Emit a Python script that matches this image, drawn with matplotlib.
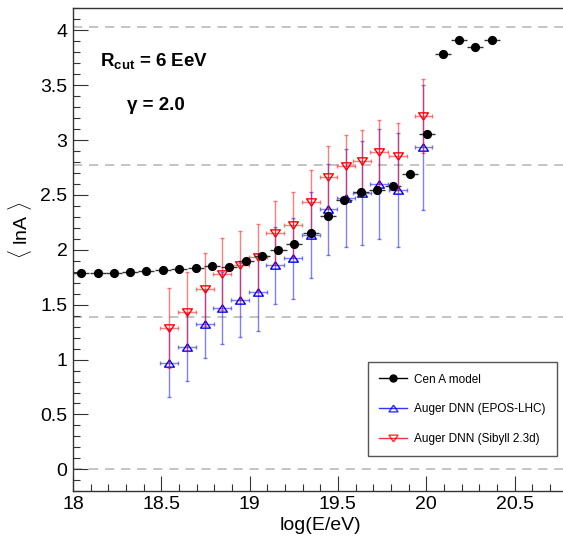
import matplotlib
matplotlib.use("Agg")
import matplotlib.pyplot as plt
from matplotlib.lines import Line2D
from matplotlib.ticker import MultipleLocator
import numpy as np

plt.rcParams["font.family"] = ["Liberation Sans", "DejaVu Sans"]
plt.rcParams["mathtext.fontset"] = "custom"
plt.rcParams["mathtext.rm"] = "Liberation Sans"
plt.rcParams["mathtext.bf"] = "Liberation Sans:bold"
plt.rcParams["mathtext.it"] = "Liberation Sans:italic"

# Cen A model prediction
cena_x = [18.045, 18.140, 18.230, 18.324, 18.413, 18.510, 18.600, 18.695, 18.789,
          18.882, 18.978, 19.069, 19.163, 19.253, 19.346, 19.442, 19.536, 19.631,
          19.721, 19.814, 19.908, 20.003, 20.095, 20.187, 20.278, 20.373]
cena_y = [1.785, 1.785, 1.785, 1.800, 1.806, 1.815, 1.824, 1.831, 1.852,
          1.846, 1.900, 1.942, 1.999, 2.054, 2.154, 2.309, 2.452, 2.525,
          2.546, 2.583, 2.689, 3.057, 3.782, 3.907, 3.846, 3.913]
cena_xerr = 0.046

# Auger DNN measurements
dnn_x = [18.545, 18.646, 18.747, 18.845, 18.946, 19.046, 19.144, 19.244,
         19.346, 19.446, 19.544, 19.635, 19.731, 19.842, 19.984]
dnn_xerr = 0.05
epos_y = [0.971, 1.111, 1.323, 1.469, 1.542, 1.612, 1.858, 1.921,
          2.134, 2.368, 2.468, 2.519, 2.598, 2.544, 2.932]
epos_err = [0.310, 0.310, 0.312, 0.325, 0.334, 0.352, 0.353, 0.373,
            0.395, 0.416, 0.446, 0.476, 0.501, 0.522, 0.570]
sibyll_y = [1.290, 1.436, 1.639, 1.779, 1.858, 1.930, 2.155, 2.228,
            2.437, 2.659, 2.762, 2.811, 2.887, 2.853, 3.218]
sibyll_err = [0.364, 0.358, 0.334, 0.325, 0.312, 0.301, 0.292, 0.294,
              0.289, 0.282, 0.280, 0.279, 0.291, 0.304, 0.337]

# lnA of p, He, N, Fe
ref_masses = [1, 4, 16, 56]

fig = plt.figure(figsize=(5.63, 5.38), dpi=100)
ax = fig.add_axes([0.1297, 0.0868, 0.8783, 0.8978])

for m in ref_masses:
    ax.axhline(np.log(m), color="#b4b4b4", lw=1.1, dashes=(6, 4.5), zorder=1)

# ROOT-like wide triangles
tri_up = [(0, 0.75), (-1, -0.75), (1, -0.75), (0, 0.75)]
tri_dn = [(0, -0.75), (-1, 0.75), (1, 0.75), (0, -0.75)]

ax.errorbar(dnn_x, epos_y, xerr=dnn_xerr, yerr=epos_err, fmt="none",
            ecolor=(0, 0, 1, 0.5), elinewidth=1.0, capsize=1.1, zorder=3)
ax.plot(dnn_x, epos_y, ls="none", marker=tri_up, color="blue", mfc="none",
        ms=7, mew=1.0, zorder=3)
ax.errorbar(dnn_x, sibyll_y, xerr=dnn_xerr, yerr=sibyll_err, fmt="none",
            ecolor=(1, 0, 0, 0.5), elinewidth=1.0, capsize=1.1, zorder=4)
ax.plot(dnn_x, sibyll_y, ls="none", marker=tri_dn, color="red", mfc="none",
        ms=7, mew=1.0, zorder=4)
ax.errorbar(cena_x, cena_y, xerr=cena_xerr, fmt="o", color="black", ms=5.6,
            ecolor="#333333", elinewidth=1.0, capsize=0, zorder=5)

ax.set_xlim(18, 20.8)
ax.set_ylim(-0.2, 4.2)
ax.xaxis.set_major_locator(MultipleLocator(0.5))
ax.xaxis.set_minor_locator(MultipleLocator(0.1))
ax.yaxis.set_major_locator(MultipleLocator(0.5))
ax.yaxis.set_minor_locator(MultipleLocator(0.1))
ax.xaxis.set_major_formatter(plt.FuncFormatter(lambda v, p: f"{v:g}"))
ax.yaxis.set_major_formatter(plt.FuncFormatter(lambda v, p: f"{v:g}"))
ax.tick_params(which="both", direction="in", top=False, right=False,
               labelsize=14, width=0.8, color="#333333")
ax.tick_params(which="major", length=10.5, pad=4)
ax.tick_params(which="minor", length=5)
ax.tick_params(axis="x", which="major", pad=3.5)
for s in ax.spines.values():
    s.set_linewidth(1.0)
    s.set_color("#333333")
ax.spines["right"].set_visible(False)

fig.text(320 / 563, 1 - 526 / 538, "log(E/eV)", ha="center", va="center", fontsize=14)
fig.text(20 / 563, 1 - 230 / 538, r"$\langle$ lnA $\rangle$", ha="center", va="center",
         fontsize=14, rotation=90)

ax.text(18.153, 3.673, r"R$_{\mathbf{cut}}$ = 6 EeV", fontsize=13.5, fontweight="bold",
        ha="left", va="baseline")
ax.text(18.306, 3.27, "γ = 2.0", fontsize=13.5, fontweight="bold",
        ha="left", va="baseline")

handles = [
    Line2D([], [], color="black", marker="o", ms=5, lw=1.0),
    Line2D([], [], color="blue", marker=tri_up, ms=6.5, mfc="none", lw=1.0, alpha=0.8),
    Line2D([], [], color="red", marker=tri_dn, ms=6.5, mfc="none", lw=1.0, alpha=0.8),
]
labels = ["Cen A model", "Auger DNN (EPOS-LHC)", "Auger DNN (Sibyll 2.3d)"]
leg = ax.legend(handles, labels, loc="upper left", bbox_to_anchor=(0.597, 0.267),
                borderaxespad=0, fontsize=8.5, frameon=True, fancybox=False,
                borderpad=0.95, handlelength=2.3, handletextpad=0.65,
                labelspacing=1.5, edgecolor="#555555", framealpha=1)
leg.get_frame().set_linewidth(1.0)

fig.savefig("out.png", dpi=100, facecolor="white")
